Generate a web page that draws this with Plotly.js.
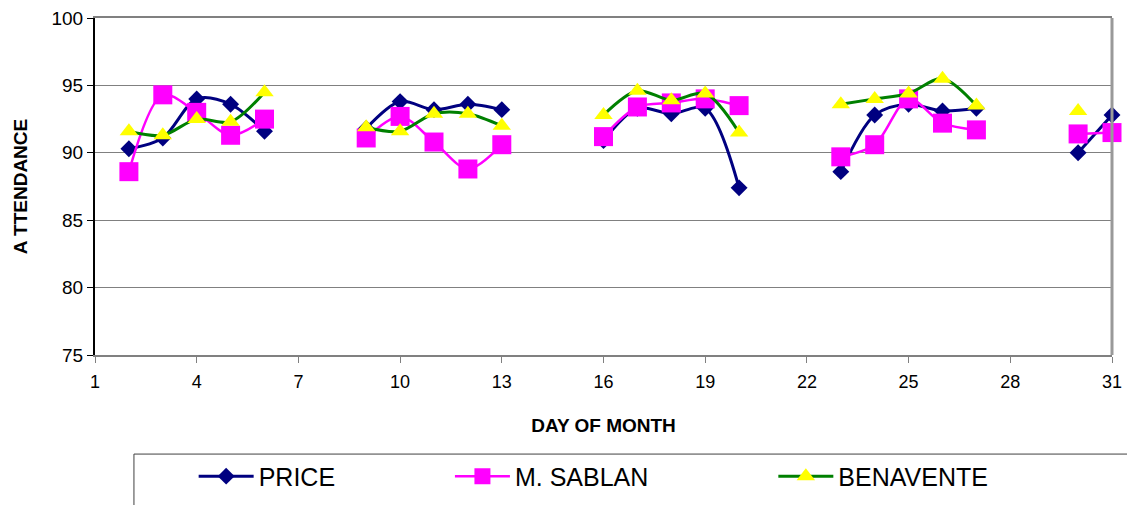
<!DOCTYPE html>
<html>
<head>
<meta charset="utf-8">
<script src="https://cdn.plot.ly/plotly-3.0.1.min.js"></script>
<style>
html,body{margin:0;padding:0;background:#fff;}
#chart{width:1127px;height:505px;}
</style>
</head>
<body>
<div id="chart"></div>
<script>
const days = [2,3,4,5,6,7,8,9,10,11,12,13,14,15,16,17,18,19,20,21,22,23,24,25,26,27,28,29,30,31];
const price = [90.3,91.1,94.0,93.6,91.6,null,null,91.8,93.8,93.2,93.6,93.2,null,null,90.9,93.3,92.9,93.3,87.4,null,null,88.6,92.8,93.6,93.1,93.3,null,null,90.0,92.8];
const sablan = [88.6,94.3,93.0,91.3,92.5,null,null,91.1,92.7,90.8,88.8,90.6,null,null,91.2,93.4,93.7,94.0,93.5,null,null,89.7,90.6,94.0,92.2,91.7,null,null,91.4,91.5];
const benavente = [91.6,91.3,92.5,92.3,94.5,null,null,91.9,91.6,92.9,92.9,92.0,null,null,92.8,94.6,93.9,94.4,91.5,null,null,93.6,94.0,94.4,95.5,93.5,null,null,93.1,null];
const seriesNames = ["PRICE","M. SABLAN","BENAVENTE"];
const xTickVals = [1,4,7,10,13,16,19,22,25,28,31];

const FONT = 'Arial, "Liberation Sans", sans-serif';

const traces = [
  {x: days, y: price, name: seriesNames[0], type: 'scatter', mode: 'lines+markers',
   connectgaps: false, cliponaxis: false, line: {color: '#000080', width: 3, shape: 'spline', smoothing: 0.9},
   marker: {symbol: 'diamond', size: 13, color: '#000080'}, legend: 'legend'},
  {x: days, y: sablan, name: seriesNames[1], type: 'scatter', mode: 'lines+markers',
   connectgaps: false, cliponaxis: false, line: {color: '#FF00FF', width: 2.5, shape: 'spline', smoothing: 0.9},
   marker: {symbol: 'square', size: 19, color: '#FF00FF'}, legend: 'legend2'},
  {x: days, y: benavente, name: seriesNames[2], type: 'scatter', mode: 'lines+markers',
   connectgaps: false, cliponaxis: false, line: {color: '#008000', width: 3, shape: 'spline', smoothing: 0.9},
   marker: {symbol: 'triangle-up', size: 16, color: '#FFFF00'}, legend: 'legend3'}
];

function leg(x) {
  return {x: x, xanchor: 'left', y: -0.292, yanchor: 'top', orientation: 'h',
    font: {family: FONT, size: 25, color: '#000'}, bgcolor: 'rgba(0,0,0,0)',
    borderwidth: 0, itemwidth: 55};
}

const layout = {
  width: 1127, height: 505,
  margin: {l: 95, r: 15, t: 18, b: 150, autoexpand: false},
  paper_bgcolor: '#fff', plot_bgcolor: '#fff',
  font: {family: FONT, size: 18, color: '#000'},
  showlegend: true,
  xaxis: {
    range: [1, 31], tickvals: xTickVals, ticktext: xTickVals.map(String),
    ticks: 'outside', ticklen: 6, tickcolor: '#808080', tickwidth: 1,
    ticklabelstandoff: 3,
    showline: true, linecolor: '#808080', linewidth: 2, mirror: true,
    showgrid: false, zeroline: false, automargin: false,
    tickfont: {family: FONT, size: 18, color: '#000'},
    title: {text: '<b>DAY OF MONTH</b>', font: {family: FONT, size: 19, color: '#000'}, standoff: 28}
  },
  yaxis: {
    range: [75, 100], tick0: 75, dtick: 5,
    ticks: 'outside', ticklen: 6, tickcolor: '#000', tickwidth: 1,
    showline: true, linecolor: '#000', linewidth: 2, mirror: false,
    showgrid: true, gridcolor: '#808080', gridwidth: 1, zeroline: false, automargin: false,
    tickfont: {family: FONT, size: 19, color: '#000'},
    title: {text: '<b>A TTENDANCE</b>', font: {family: FONT, size: 19, color: '#000'}, standoff: 19}
  },
  legend: leg(0.097),
  legend2: leg(0.349),
  legend3: leg(0.667),
  shapes: [
    {type: 'line', xref: 'paper', yref: 'paper', x0: 1, x1: 1, y0: 0, y1: 1,
     line: {color: '#999999', width: 3}},
    {type: 'rect', xref: 'paper', yref: 'paper', x0: 0.0383, x1: 1.03, y0: -0.294, y1: -0.47,
     line: {color: '#404040', width: 1}}
  ]
};

Plotly.newPlot('chart', traces, layout, {displayModeBar: false, staticPlot: true});
</script>
</body>
</html>
